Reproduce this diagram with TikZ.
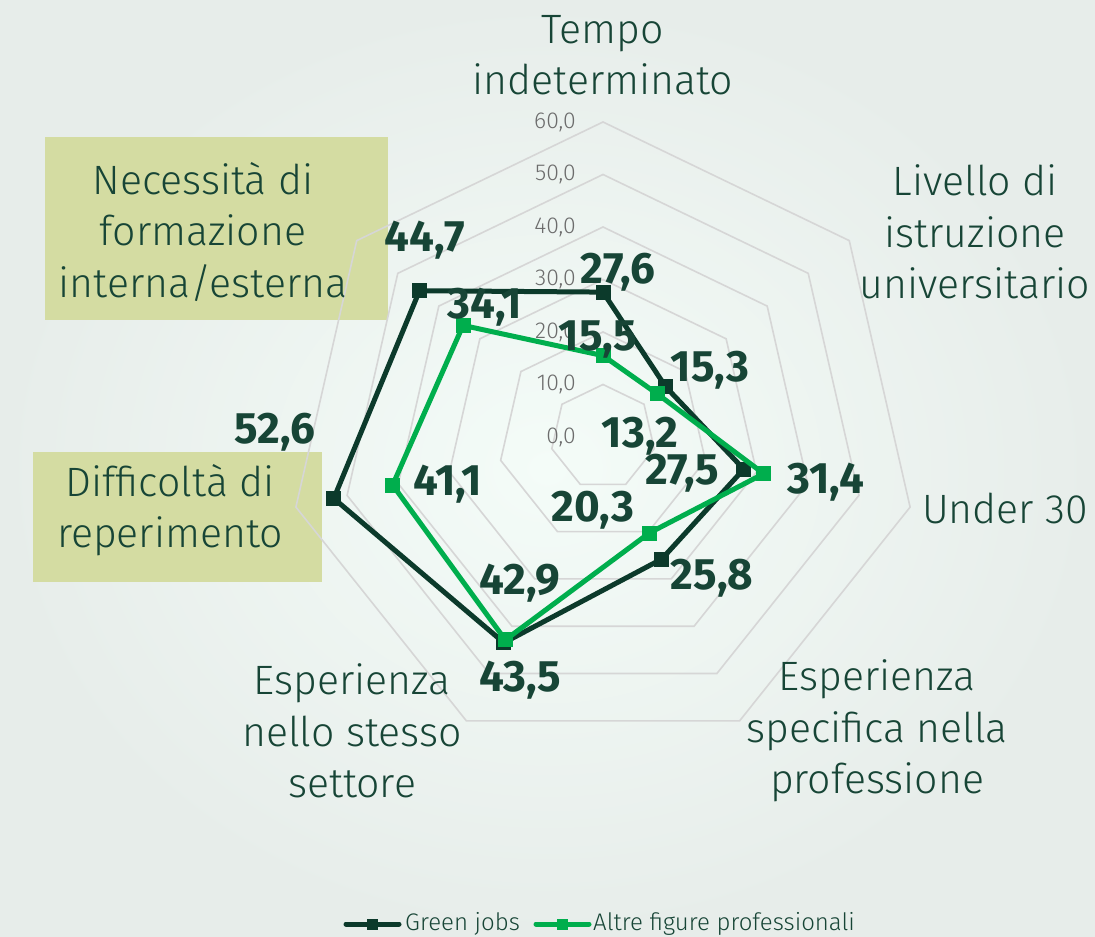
\documentclass[tikz,border=0pt]{standalone}
\usepackage{fontspec}
\setmainfont{Fira Sans}
\newfontfamily\lightfont{Fira Sans Light}
\usetikzlibrary{positioning,calc}

\definecolor{gjdark}{HTML}{0C3A2B}
\definecolor{gjtext}{HTML}{174536}
\definecolor{altre}{HTML}{00AE4D}
\definecolor{gridgray}{HTML}{D6D6D6}
\definecolor{boxolive}{HTML}{D4DCA2}
\definecolor{bgin}{HTML}{F4FCF8}
\definecolor{bgout}{HTML}{E7EDEA}
\definecolor{scalegray}{HTML}{6C6C6C}

\tikzset{
  catlabel/.style={font=\lightfont\fontsize{41}{51.5}\selectfont, text=gjtext, align=center, inner sep=0pt},
  vallabel/.style={font=\bfseries\fontsize{44}{44}\selectfont, text=gjtext, inner sep=0pt},
  scalelabel/.style={font=\lightfont\fontsize{23}{23}\selectfont, text=scalegray, anchor=east, inner sep=0pt},
  ring/.style={draw=gridgray, line width=1.6pt},
  gjline/.style={draw=gjdark, line width=5pt},
  altline/.style={draw=altre, line width=5pt},
  gjmark/.style={fill=gjdark, minimum size=15pt, inner sep=0pt},
  altmark/.style={fill=altre, minimum size=15pt, inner sep=0pt},
  hlbox/.style={fill=boxolive},
  legtext/.style={font=\lightfont\fontsize{24}{24}\selectfont, text=gjtext, anchor=west, inner sep=0pt}
}

\begin{document}
\begin{tikzpicture}[x=1pt, y=-1pt]
\useasboundingbox (0,0) rectangle (1095,937);
\shade[inner color=bgin, outer color=bgout] (0,0) rectangle (1095,937);

% highlighted categories
\fill[hlbox] (45,137) rectangle (388,320);
\fill[hlbox] (33,452) rectangle (322,582);

\coordinate (C) at (603,437);

% rings
\begin{scope}[shift={(C)}]
\foreach \k in {1,...,6}
  \draw[ring] (-90:\k*52.5) \foreach \i in {1,...,6}{ -- (-90+\i*360/7:\k*52.5)} -- cycle;

% data points
\foreach \v [count=\i] in {27.6,15.3,27.5,25.8,43.5,52.6,44.7}
  \coordinate (g\i) at (-90+\i*360/7-360/7:\v*5.25);
\foreach \v [count=\i] in {15.5,13.2,31.4,20.3,42.9,41.1,34.1}
  \coordinate (a\i) at (-90+\i*360/7-360/7:\v*5.25);
\end{scope}

% scale
\foreach \k/\t in {0/{0,0},1/{10,0},2/{20,0},3/{30,0},4/{40,0},5/{50,0},6/{60,0}}
  \node[scalelabel] (s\k) at (576,437-\k*52.5) {\t};

% series
\draw[gjline] (g1) -- (g2) -- (g3) -- (g4) -- (g5) -- (g6) -- (g7) -- cycle;
\foreach \i in {1,...,7}
  \node[gjmark] (gm\i) at (g\i) {};
\draw[altline] (a1) -- (a2) -- (a3) -- (a4) -- (a5) -- (a6) -- (a7) -- cycle;
\foreach \i in {1,...,7}
  \node[altmark] (am\i) at (a\i) {};

% category labels
\node[catlabel] (tempo) at (603,55) {Tempo\\indeterminato};
\node[catlabel] (livello) at (975,232) {Livello di\\istruzione\\universitario};
\node[catlabel] (under) at (1005,508) {Under 30};
\node[catlabel] (specifica) at (877,731) {Esperienza\\specifica nella\\professione};
\node[catlabel] (settore) at (352,731) {Esperienza\\nello stesso\\settore};
\node[catlabel] (difficolta) at (170,510) {Difficoltà di\\reperimento};
\node[catlabel] (necessita) at (203,232) {Necessità di\\formazione\\interna/esterna};

% values green jobs
\node[vallabel] (vg1) at (618,272) {27,6};
\node[vallabel] (vg2) at (710,370) {15,3};
\node[vallabel] (vg3) at (682,473) {27,5};
\node[vallabel] (vg4) at (712,578) {25,8};
\node[vallabel] (vg5) at (520,680) {43,5};
\node[vallabel] (vg6) at (275,432) {52,6};
\node[vallabel] (vg7) at (425,240) {44,7};

% values altre figure
\node[vallabel] (va1) at (598,340) {15,5};
\node[vallabel] (va2) at (640,436) {13,2};
\node[vallabel] (va3) at (826,482) {31,4};
\node[vallabel] (va4) at (593,510) {20,3};
\node[vallabel] (va5) at (520,583) {42,9};
\node[vallabel] (va6) at (448,484) {41,1};
\node[vallabel] (va7) at (485,307) {34,1};

% legend
\coordinate (lg1) at (346,924);
\coordinate (lg2) at (399,924);
\coordinate (la1) at (536,924);
\coordinate (la2) at (589,924);
\draw[gjline, line cap=round] (lg1) -- (lg2);
\node[gjmark, minimum size=11pt] (lgm) at ($(lg1)!0.5!(lg2)$) {};
\node[legtext] (lgt) at (405,924) {Green jobs};
\draw[altline, line cap=round] (la1) -- (la2);
\node[altmark, minimum size=11pt] (lam) at ($(la1)!0.5!(la2)$) {};
\node[legtext] (lat) at (593,924) {Altre figure professionali};
\end{tikzpicture}
\end{document}
